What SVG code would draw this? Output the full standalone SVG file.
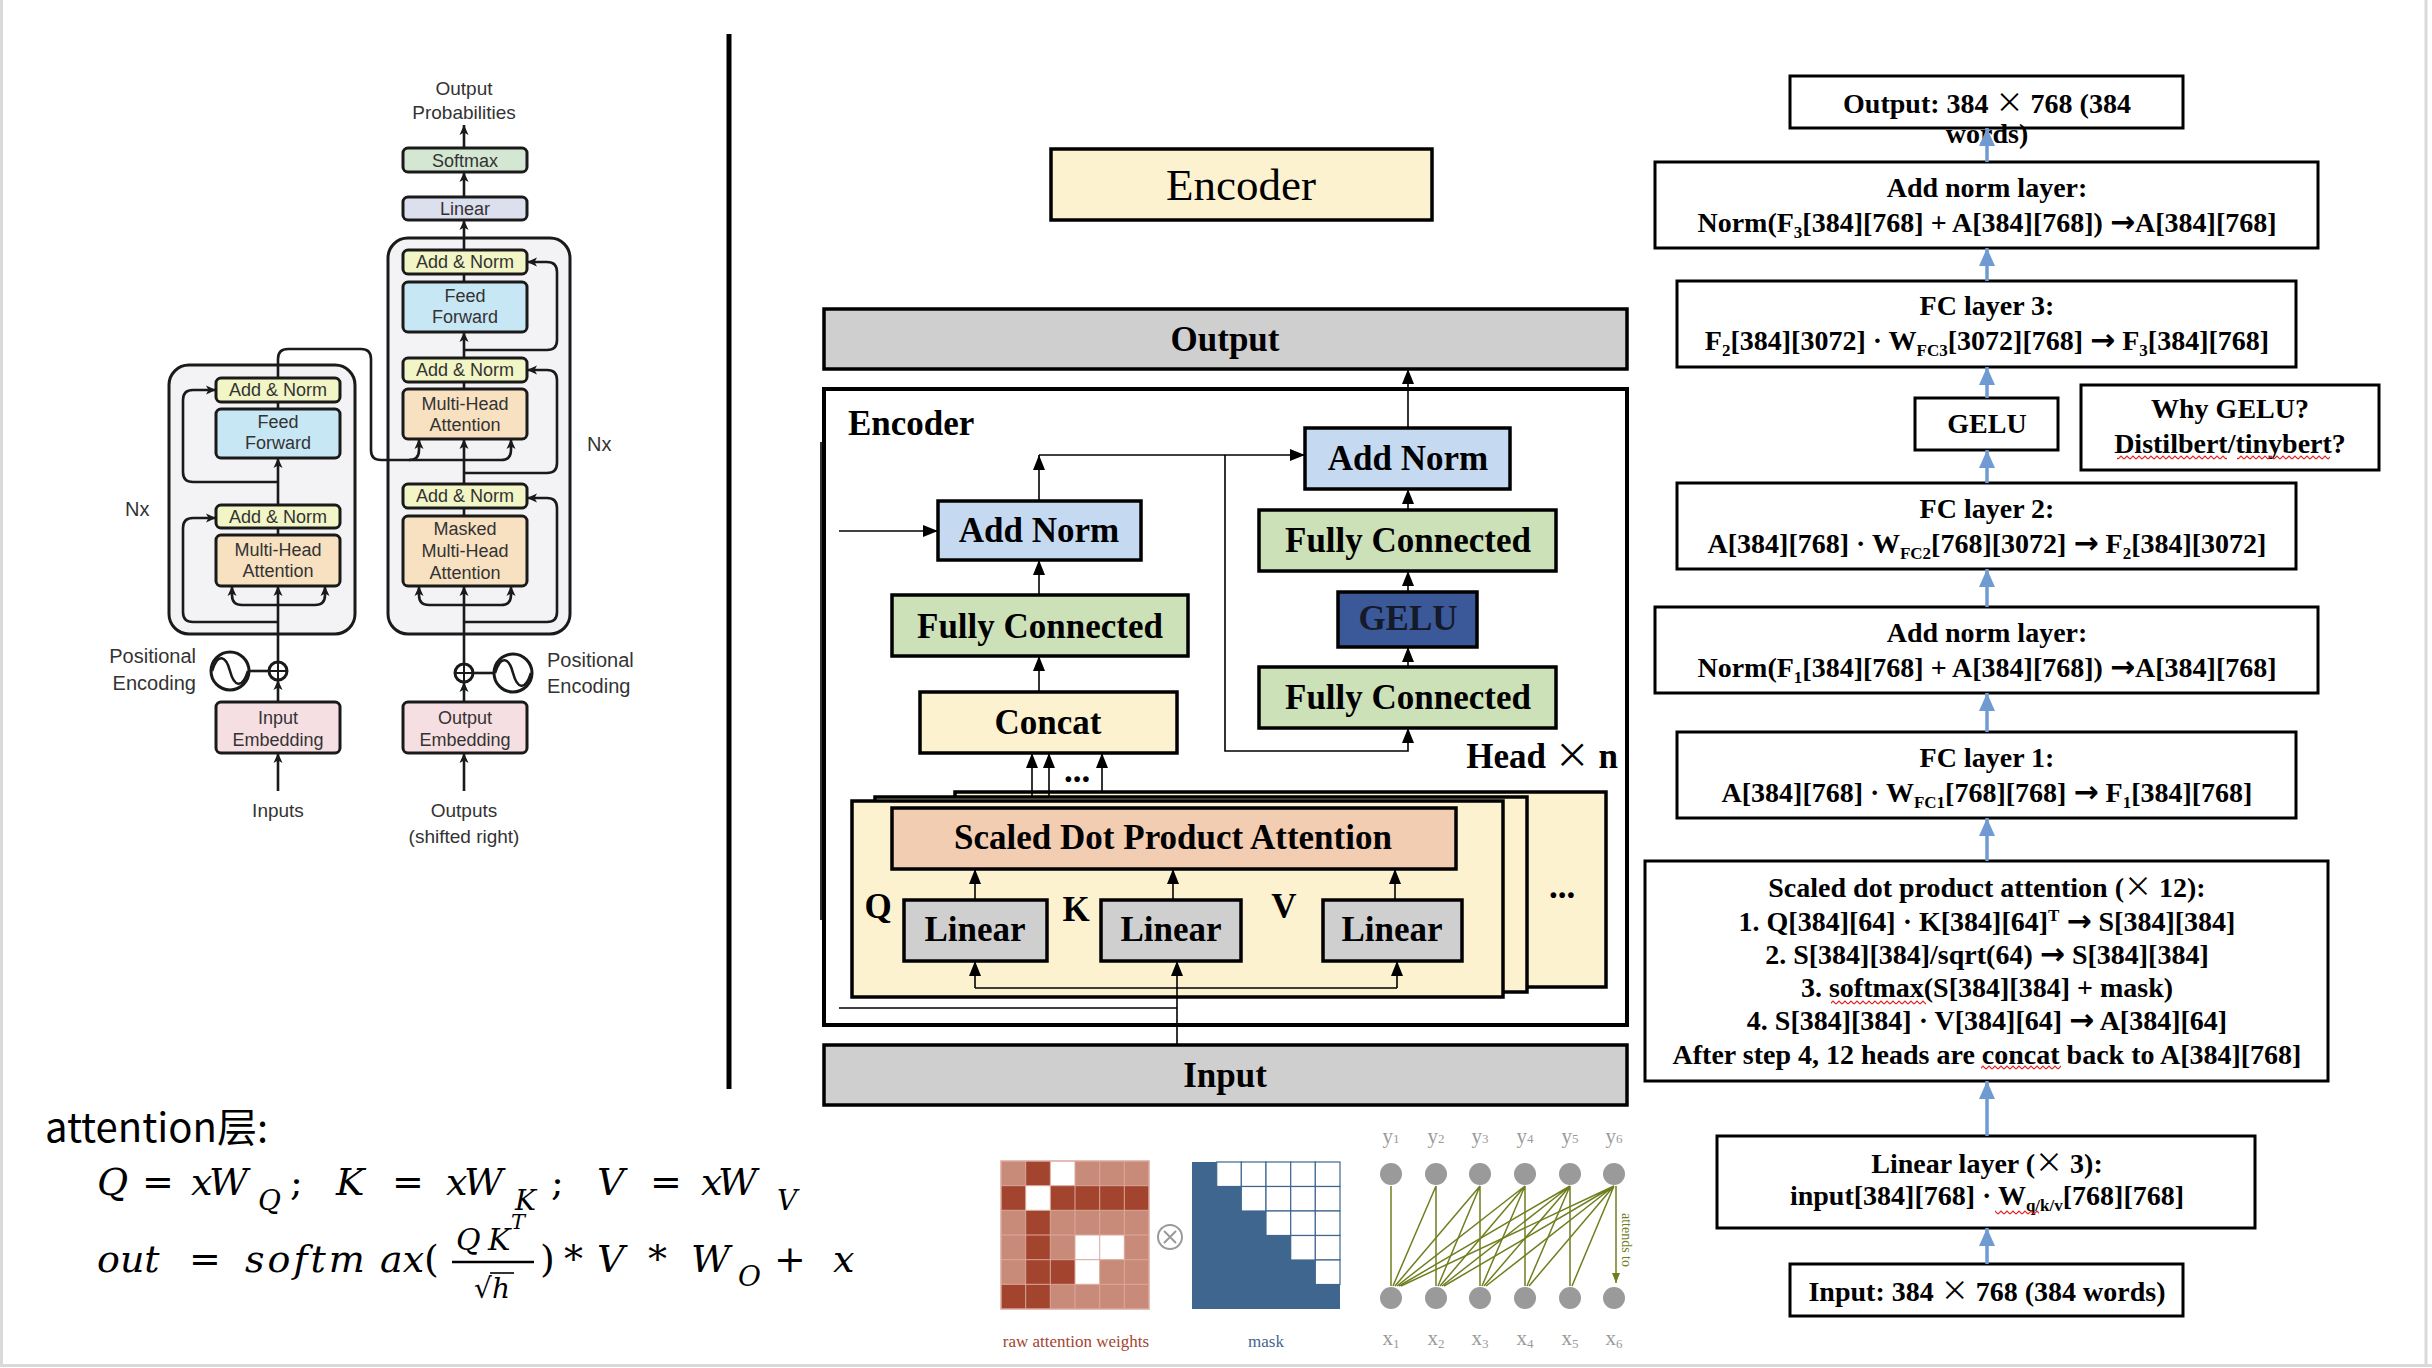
<svg xmlns="http://www.w3.org/2000/svg" width="2432" height="1368" viewBox="0 0 2432 1368">
<defs>
<style>
.pf{font-family:"Liberation Sans",Arial,sans-serif;font-size:18px;fill:#333;text-anchor:middle}
.pfl{font-family:"Liberation Sans",Arial,sans-serif;font-size:20px;fill:#333}
.pb{stroke:#1a1a1a;stroke-width:3}
.pl{fill:none;stroke:#1a1a1a;stroke-width:2.6}
.an{fill:#f2f5c6}.ff{fill:#c8e7f5}.mh{fill:#f7e1c1}.em{fill:#f6dfe2}
.tb{font-family:"Liberation Serif","Times New Roman",serif;font-weight:bold;font-size:35px;fill:#000;text-anchor:middle}
.mb{stroke:#000;stroke-width:3.5}
.ml{fill:none;stroke:#000;stroke-width:1.6}
.rb{fill:#fff;stroke:#000;stroke-width:3}
.rt{font-family:"Liberation Serif","Times New Roman",serif;font-weight:bold;font-size:28px;fill:#000;text-anchor:middle}
.sb{font-size:17px}
.ar{font-family:"DejaVu Sans",sans-serif;font-weight:bold;font-size:30px}
.cj{font-family:"Noto Sans CJK SC",sans-serif;font-weight:normal}
.bl{fill:none;stroke:#6f9bd2;stroke-width:3.5}
.fm{font-family:"DejaVu Serif",serif;font-style:italic;font-size:38px;fill:#000}
.up{font-style:normal}
.gl{stroke:#6f7f1f;stroke-width:1.5;fill:none}
.gn{fill:#9a9a9a}
.gt{font-family:"Liberation Serif",serif;font-size:21px;fill:#9a9a9a;text-anchor:middle}
</style>
<marker id="pa" markerUnits="userSpaceOnUse" markerWidth="10" markerHeight="10" refX="10" refY="5" orient="auto"><path d="M0,0.5 L10,5 L0,9.5 L2.5,5 z" fill="#1a1a1a"/></marker>
<marker id="ma" markerUnits="userSpaceOnUse" markerWidth="15" markerHeight="12" refX="15" refY="6" orient="auto"><path d="M0,0 L15,6 L0,12 z" fill="#000"/></marker>
<marker id="ba" markerUnits="userSpaceOnUse" markerWidth="18" markerHeight="16" refX="18" refY="8" orient="auto"><path d="M0,0 L18,8 L0,16 z" fill="#6f9bd2"/></marker>
<marker id="ga" markerUnits="userSpaceOnUse" markerWidth="10" markerHeight="8" refX="10" refY="4" orient="auto"><path d="M0,0 L10,4 L0,8 z" fill="#6f7f1f"/></marker>
<pattern id="wave" width="6" height="5" patternUnits="userSpaceOnUse"><path d="M0,4 L3,1 L6,4" stroke="#e02020" fill="none" stroke-width="1.2"/></pattern>
</defs>
<rect width="2432" height="1368" fill="#fff"/>
<g id="slide-border" stroke="#d9d9d9" stroke-width="3" fill="none">
<line x1="1.5" y1="0" x2="1.5" y2="1366"/>
<line x1="0" y1="1365.5" x2="2432" y2="1365.5"/>
<line x1="2426" y1="0" x2="2426" y2="1366"/>
</g>
<line id="divider" x1="729" y1="34" x2="729" y2="1089" stroke="#000" stroke-width="5"/>

<!-- ===== Left: transformer paper figure ===== -->
<g id="paper-figure">
<g id="dec-container"><rect x="388" y="238" width="182" height="396" rx="20" fill="#f3f3f5" class="pb"/></g>
<g id="enc-container"><rect x="169" y="365" width="186" height="269" rx="20" fill="#f3f3f5" class="pb"/></g>
<g id="p-output-prob"><text class="pf" x="464" y="95" style="font-size:19px">Output</text><text class="pf" x="464" y="119" style="font-size:19px">Probabilities</text></g>
<g id="p-softmax"><rect x="403" y="148" width="124" height="24" rx="5" fill="#d3e7d3" class="pb"/><text class="pf" x="465" y="167">Softmax</text></g>
<g id="p-linear"><rect x="403" y="197" width="124" height="23" rx="5" fill="#dcdfee" class="pb"/><text class="pf" x="465" y="215">Linear</text></g>
<g id="p-dec-an1"><rect x="403" y="250" width="124" height="24" rx="5" class="an pb"/><text class="pf" x="465" y="268">Add &amp; Norm</text></g>
<g id="p-dec-ff"><rect x="403" y="282" width="124" height="50" rx="5" class="ff pb"/><text class="pf" x="465" y="302">Feed</text><text class="pf" x="465" y="323">Forward</text></g>
<g id="p-dec-an2"><rect x="403" y="358" width="124" height="24" rx="5" class="an pb"/><text class="pf" x="465" y="376">Add &amp; Norm</text></g>
<g id="p-dec-mha"><rect x="403" y="389" width="124" height="50" rx="5" class="mh pb"/><text class="pf" x="465" y="410">Multi-Head</text><text class="pf" x="465" y="431">Attention</text></g>
<g id="p-dec-an3"><rect x="403" y="484" width="124" height="24" rx="5" class="an pb"/><text class="pf" x="465" y="502">Add &amp; Norm</text></g>
<g id="p-dec-mmha"><rect x="403" y="516" width="124" height="70" rx="5" class="mh pb"/><text class="pf" x="465" y="535">Masked</text><text class="pf" x="465" y="557">Multi-Head</text><text class="pf" x="465" y="579">Attention</text></g>
<g id="p-out-emb"><rect x="403" y="702" width="124" height="51" rx="5" class="em pb"/><text class="pf" x="465" y="724">Output</text><text class="pf" x="465" y="746">Embedding</text></g>
<g id="p-enc-an1"><rect x="216" y="378" width="124" height="24" rx="5" class="an pb"/><text class="pf" x="278" y="396">Add &amp; Norm</text></g>
<g id="p-enc-ff"><rect x="216" y="409" width="124" height="49" rx="5" class="ff pb"/><text class="pf" x="278" y="428">Feed</text><text class="pf" x="278" y="449">Forward</text></g>
<g id="p-enc-an2"><rect x="216" y="505" width="124" height="23" rx="5" class="an pb"/><text class="pf" x="278" y="523">Add &amp; Norm</text></g>
<g id="p-enc-mha"><rect x="216" y="535" width="124" height="51" rx="5" class="mh pb"/><text class="pf" x="278" y="556">Multi-Head</text><text class="pf" x="278" y="577">Attention</text></g>
<g id="p-in-emb"><rect x="216" y="702" width="124" height="51" rx="5" class="em pb"/><text class="pf" x="278" y="724">Input</text><text class="pf" x="278" y="746">Embedding</text></g>
<g id="p-labels">
<text class="pfl" x="125" y="516">Nx</text>
<text class="pfl" x="587" y="451">Nx</text>
<text class="pfl" x="196" y="663" style="text-anchor:end">Positional</text>
<text class="pfl" x="196" y="690" style="text-anchor:end">Encoding</text>
<text class="pfl" x="547" y="667">Positional</text>
<text class="pfl" x="547" y="693">Encoding</text>
<text class="pf" x="278" y="817" style="font-size:19px">Inputs</text>
<text class="pf" x="464" y="817" style="font-size:19px">Outputs</text>
<text class="pf" x="464" y="843" style="font-size:19px">(shifted right)</text>
</g>
<g id="p-pos-enc">
<circle cx="230" cy="671" r="19" fill="#fff" class="pb"/>
<path d="M212,671 C218,652 226,656 230,671 C234,686 242,690 248,671" class="pl"/>
<circle cx="278" cy="671" r="9" fill="#fff" class="pb"/>
<path d="M269,671 H287 M278,662 V680" class="pl" style="stroke-width:2"/>
<circle cx="513" cy="673" r="19" fill="#fff" class="pb"/>
<path d="M495,673 C501,654 509,658 513,673 C517,688 525,692 531,673" class="pl"/>
<circle cx="464" cy="673" r="9" fill="#fff" class="pb"/>
<path d="M455,673 H473 M464,664 V682" class="pl" style="stroke-width:2"/>
</g>
<g id="p-connectors" class="pl">
<path d="M464,148 V125" marker-end="url(#pa)"/>
<path d="M464,197 V172" marker-end="url(#pa)"/>
<path d="M464,250 V220" marker-end="url(#pa)"/>
<path d="M464,274 V282"/>
<path d="M464,358 V332" marker-end="url(#pa)"/>
<path d="M464,350 H547 Q557,350 557,340 V272 Q557,262 547,262 H527" marker-end="url(#pa)"/>
<path d="M464,382 V389"/>
<path d="M464,484 V439" marker-end="url(#pa)"/>
<path d="M464,460 H501 Q511,460 511,450 V439" marker-end="url(#pa)"/>
<path d="M464,473 H547 Q557,473 557,463 V380 Q557,370 547,370 H527" marker-end="url(#pa)"/>
<path d="M278,378 V359 Q278,349 288,349 H361 Q371,349 371,359 V450 Q371,460 381,460 H409 Q419,460 419,450 V439" marker-end="url(#pa)"/>
<path d="M409,460 H464"/>
<path d="M464,508 V516"/>
<path d="M464,664 V586" marker-end="url(#pa)"/>
<path d="M464,605 H429 Q419,605 419,595 V586" marker-end="url(#pa)"/>
<path d="M464,605 H501 Q511,605 511,595 V586" marker-end="url(#pa)"/>
<path d="M464,622 H547 Q557,622 557,612 V508 Q557,498 547,498 H527" marker-end="url(#pa)"/>
<path d="M464,702 V682" marker-end="url(#pa)"/>
<path d="M464,791 V753" marker-end="url(#pa)"/>
<path d="M473,673 H494"/>
<path d="M278,402 V409"/>
<path d="M278,505 V458" marker-end="url(#pa)"/>
<path d="M278,482 H193 Q183,482 183,472 V400 Q183,390 193,390 H216" marker-end="url(#pa)"/>
<path d="M278,528 V535"/>
<path d="M278,662 V586" marker-end="url(#pa)"/>
<path d="M278,605 H242 Q232,605 232,595 V586" marker-end="url(#pa)"/>
<path d="M278,605 H315 Q325,605 325,595 V586" marker-end="url(#pa)"/>
<path d="M278,622 H193 Q183,622 183,612 V528 Q183,518 193,518 H216" marker-end="url(#pa)"/>
<path d="M278,702 V680" marker-end="url(#pa)"/>
<path d="M278,791 V753" marker-end="url(#pa)"/>
<path d="M249,671 H269"/>
</g>
</g>

<!-- ===== Middle: encoder block ===== -->
<g id="encoder-title"><rect x="1051" y="149" width="381" height="71" fill="#fdf2d0" class="mb"/><text x="1241" y="200" class="tb" style="font-weight:normal;font-size:45px">Encoder</text></g>
<g id="output-bar"><rect x="824" y="309" width="803" height="60" fill="#d0cfd0" class="mb"/><text x="1225" y="351" class="tb">Output</text></g>
<g id="encoder-box"><rect x="824" y="389" width="803" height="636" fill="#fff" stroke="#000" stroke-width="4"/><text x="848" y="435" class="tb" style="text-anchor:start">Encoder</text></g>
<g id="head-stack">
<rect x="955" y="792" width="651" height="195" fill="#fdf2d0" class="mb"/>
<text x="1562" y="898" class="tb">...</text>
<rect x="875" y="797" width="652" height="195" fill="#fdf2d0" class="mb"/>
<rect x="852" y="801" width="651" height="196" fill="#fdf2d0" class="mb"/>
</g>
<g id="sdpa"><rect x="892" y="808" width="564" height="61" fill="#f3cdb1" class="mb"/><text x="1173" y="849" class="tb">Scaled Dot Product Attention</text></g>
<g id="linear-q"><rect x="904" y="900" width="143" height="61" fill="#d0cfd0" class="mb"/><text x="975" y="941" class="tb">Linear</text></g>
<g id="linear-k"><rect x="1101" y="900" width="140" height="61" fill="#d0cfd0" class="mb"/><text x="1171" y="941" class="tb">Linear</text></g>
<g id="linear-v"><rect x="1323" y="900" width="139" height="61" fill="#d0cfd0" class="mb"/><text x="1392" y="941" class="tb">Linear</text></g>
<g id="qkv-labels"><text x="878" y="918" class="tb">Q</text><text x="1076" y="921" class="tb">K</text><text x="1284" y="918" class="tb">V</text></g>
<g id="concat"><rect x="920" y="692" width="257" height="61" fill="#fdf2d0" class="mb"/><text x="1048" y="734" class="tb">Concat</text></g>
<g id="fc-left"><rect x="892" y="595" width="296" height="61" fill="#cde1b8" class="mb"/><text x="1040" y="638" class="tb">Fully Connected</text></g>
<g id="addnorm-left"><rect x="938" y="501" width="203" height="59" fill="#c5d9f1" class="mb"/><text x="1039" y="542" class="tb">Add Norm</text></g>
<g id="addnorm-right"><rect x="1305" y="428" width="205" height="61" fill="#c5d9f1" class="mb"/><text x="1408" y="470" class="tb">Add Norm</text></g>
<g id="fc-upper"><rect x="1259" y="510" width="297" height="61" fill="#cde1b8" class="mb"/><text x="1408" y="552" class="tb">Fully Connected</text></g>
<g id="gelu-mid"><rect x="1338" y="592" width="139" height="55" fill="#3b5998" class="mb"/><text x="1408" y="630" class="tb" style="fill:#141a2a">GELU</text></g>
<g id="fc-lower"><rect x="1259" y="667" width="297" height="61" fill="#cde1b8" class="mb"/><text x="1408" y="709" class="tb">Fully Connected</text></g>
<g id="head-n"><text x="1618" y="768" class="tb" style="text-anchor:end">Head <tspan class="cj">×</tspan> n</text></g>
<g id="concat-dots"><text x="1077" y="782" class="tb">...</text></g>
<g id="input-bar"><rect x="824" y="1045" width="803" height="60" fill="#d0cfd0" class="mb"/><text x="1225" y="1087" class="tb">Input</text></g>
<g id="mid-connectors" class="ml">
<path d="M1408,428 V369" marker-end="url(#ma)"/>
<path d="M1408,510 V489" marker-end="url(#ma)"/>
<path d="M1408,592 V571" marker-end="url(#ma)"/>
<path d="M1408,667 V647" marker-end="url(#ma)"/>
<path d="M1225,455 V751 H1408 V728" marker-end="url(#ma)"/>
<path d="M1039,501 V455" marker-end="url(#ma)"/>
<path d="M1039,455 H1305" marker-end="url(#ma)"/>
<path d="M839,531 H938" marker-end="url(#ma)"/>
<path d="M1039,595 V560" marker-end="url(#ma)"/>
<path d="M1039,692 V656" marker-end="url(#ma)"/>
<path d="M1032,797 V753" marker-end="url(#ma)"/>
<path d="M1049,797 V753" marker-end="url(#ma)"/>
<path d="M1102,792 V753" marker-end="url(#ma)"/>
<path d="M975,900 V869" marker-end="url(#ma)"/>
<path d="M1173,900 V869" marker-end="url(#ma)"/>
<path d="M1395,900 V869" marker-end="url(#ma)"/>
<path d="M975,988 V961" marker-end="url(#ma)"/>
<path d="M975,988 H1397"/>
<path d="M1397,988 V961" marker-end="url(#ma)"/>
<path d="M1177,1045 V961" marker-end="url(#ma)"/>
<path d="M839,1008 H1177"/>
<path d="M821,442 V920"/>
</g>

<!-- ===== Right: shapes column ===== -->
<g id="r-output"><rect x="1790" y="76" width="393" height="52" class="rb"/><text x="1987" y="113" class="rt">Output: 384 <tspan class="cj">×</tspan> 768 (384</text><text x="1987" y="143" class="rt">words)</text></g>
<g id="r-addnorm3"><rect x="1655" y="162" width="663" height="86" class="rb"/><text x="1987" y="197" class="rt">Add norm layer:</text><text x="1987" y="232" class="rt">Norm(F<tspan class="sb" dy="6">3</tspan><tspan dy="-6">[384][768] + A[384][768]) </tspan><tspan class="ar">→</tspan>A[384][768]</text></g>
<g id="r-fc3"><rect x="1677" y="281" width="619" height="86" class="rb"/><text x="1987" y="315" class="rt">FC layer 3:</text><text x="1987" y="350" class="rt">F<tspan class="sb" dy="6">2</tspan><tspan dy="-6">[384][3072] · W</tspan><tspan class="sb" dy="6">FC3</tspan><tspan dy="-6">[3072][768] </tspan><tspan class="ar">→</tspan> F<tspan class="sb" dy="6">3</tspan><tspan dy="-6">[384][768]</tspan></text></g>
<g id="r-gelu"><rect x="1915" y="398" width="143" height="52" class="rb"/><text x="1987" y="433" class="rt">GELU</text></g>
<g id="r-why"><rect x="2081" y="385" width="298" height="85" class="rb"/><text x="2230" y="418" class="rt">Why GELU?</text><text x="2230" y="453" class="rt">Distilbert/tinybert?</text>
<rect x="2117" y="455" width="110" height="5" fill="url(#wave)"/><rect x="2237" y="455" width="93" height="5" fill="url(#wave)"/></g>
<g id="r-fc2"><rect x="1677" y="483" width="619" height="86" class="rb"/><text x="1987" y="518" class="rt">FC layer 2:</text><text x="1987" y="553" class="rt">A[384][768] · W<tspan class="sb" dy="6">FC2</tspan><tspan dy="-6">[768][3072] </tspan><tspan class="ar">→</tspan> F<tspan class="sb" dy="6">2</tspan><tspan dy="-6">[384][3072]</tspan></text></g>
<g id="r-addnorm1"><rect x="1655" y="607" width="663" height="86" class="rb"/><text x="1987" y="642" class="rt">Add norm layer:</text><text x="1987" y="677" class="rt">Norm(F<tspan class="sb" dy="6">1</tspan><tspan dy="-6">[384][768] + A[384][768]) </tspan><tspan class="ar">→</tspan>A[384][768]</text></g>
<g id="r-fc1"><rect x="1677" y="732" width="619" height="86" class="rb"/><text x="1987" y="767" class="rt">FC layer 1:</text><text x="1987" y="802" class="rt">A[384][768] · W<tspan class="sb" dy="6">FC1</tspan><tspan dy="-6">[768][768] </tspan><tspan class="ar">→</tspan> F<tspan class="sb" dy="6">1</tspan><tspan dy="-6">[384][768]</tspan></text></g>
<g id="r-sdpa"><rect x="1645" y="861" width="683" height="220" class="rb"/>
<text x="1987" y="897" class="rt">Scaled dot product attention (<tspan class="cj">×</tspan> 12):</text>
<text x="1987" y="931" class="rt">1. Q[384][64] · K[384][64]<tspan class="sb" dy="-10">T</tspan><tspan dy="10"> </tspan><tspan class="ar">→</tspan> S[384][384]</text>
<text x="1987" y="964" class="rt">2. S[384][384]/sqrt(64) <tspan class="ar">→</tspan> S[384][384]</text>
<text x="1987" y="997" class="rt">3. softmax(S[384][384] + mask)</text>
<text x="1987" y="1030" class="rt">4. S[384][384] · V[384][64] <tspan class="ar">→</tspan> A[384][64]</text>
<text x="1987" y="1064" class="rt">After step 4, 12 heads are concat back to A[384][768]</text>
<rect x="1831" y="1000" width="95" height="5" fill="url(#wave)"/><rect x="1981" y="1065" width="80" height="5" fill="url(#wave)"/></g>
<g id="r-linear"><rect x="1717" y="1136" width="538" height="92" class="rb"/><text x="1987" y="1173" class="rt">Linear layer (<tspan class="cj">×</tspan> 3):</text><text x="1987" y="1205" class="rt">input[384][768] · W<tspan class="sb" dy="6">q/k/v</tspan><tspan dy="-6">[768][768]</tspan></text>
<rect x="1995" y="1210" width="44" height="5" fill="url(#wave)"/></g>
<g id="r-input"><rect x="1790" y="1264" width="393" height="52" class="rb"/><text x="1987" y="1301" class="rt">Input: 384 <tspan class="cj">×</tspan> 768 (384 words)</text></g>
<g id="right-connectors" class="bl">
<path d="M1987,162 V128" marker-end="url(#ba)"/>
<path d="M1987,281 V248" marker-end="url(#ba)"/>
<path d="M1987,398 V367" marker-end="url(#ba)"/>
<path d="M1987,483 V450" marker-end="url(#ba)"/>
<path d="M1987,607 V569" marker-end="url(#ba)"/>
<path d="M1987,732 V693" marker-end="url(#ba)"/>
<path d="M1987,861 V818" marker-end="url(#ba)"/>
<path d="M1987,1136 V1081" marker-end="url(#ba)"/>
<path d="M1987,1264 V1228" marker-end="url(#ba)"/>
</g>

<!-- ===== Bottom-left formula ===== -->
<g id="formula">
<text x="45" y="1142" font-family="Noto Sans CJK SC, sans-serif" font-size="40" fill="#000">attention层:</text>
<text class="fm" y="1195"><tspan x="97">Q</tspan><tspan x="142" class="up">=</tspan><tspan x="191">x</tspan><tspan x="209">W</tspan><tspan x="258" y="1210" style="font-size:28px">Q</tspan><tspan x="290" y="1195" class="up">;</tspan><tspan x="336">K</tspan><tspan x="392" class="up">=</tspan><tspan x="446">x</tspan><tspan x="464">W</tspan><tspan x="515" y="1210" style="font-size:28px">K</tspan><tspan x="551" y="1195" class="up">;</tspan><tspan x="597">V</tspan><tspan x="650" class="up">=</tspan><tspan x="701">x</tspan><tspan x="718">W</tspan><tspan x="777" y="1210" style="font-size:28px">V</tspan></text>
<text class="fm" y="1272"><tspan x="97">out</tspan><tspan x="189" class="up">=</tspan><tspan x="245" letter-spacing="3">softm</tspan><tspan x="380">ax</tspan><tspan x="424" class="up">(</tspan><tspan x="456" y="1250" style="font-size:30px">Q</tspan><tspan x="488" style="font-size:30px">K</tspan><tspan x="511" y="1229" style="font-size:21px">T</tspan><tspan x="474" y="1298" class="up" style="font-size:28px">√</tspan><tspan x="492" style="font-size:28px">h</tspan><tspan x="540" y="1272" class="up">)</tspan><tspan x="564" class="up">*</tspan><tspan x="597">V</tspan><tspan x="648" class="up">*</tspan><tspan x="691">W</tspan><tspan x="738" y="1286" style="font-size:28px">O</tspan><tspan x="774" y="1272" class="up">+</tspan><tspan x="833">x</tspan></text>
<line x1="452" y1="1262" x2="534" y2="1262" stroke="#000" stroke-width="2.5"/>
<line x1="490" y1="1273" x2="514" y2="1273" stroke="#000" stroke-width="1.6"/>
</g>

<!-- ===== Bottom-middle: attention mask illustration ===== -->
<g id="raw-weights">
<rect x="1001" y="1161" width="148" height="148" fill="#c98b79"/>
<g fill="#a3442f">
<rect x="1025.7" y="1161" width="24.7" height="24.7"/>
<rect x="1001" y="1185.7" width="24.7" height="24.7"/>
<rect x="1050.3" y="1185.7" width="98.7" height="24.7"/>
<rect x="1025.7" y="1210.3" width="24.7" height="74"/>
<rect x="1050.3" y="1259.7" width="24.7" height="24.7"/>
<rect x="1001" y="1284.3" width="49.3" height="24.7"/>
</g>
<g fill="#fff">
<rect x="1050.3" y="1161" width="24.7" height="24.7"/>
<rect x="1025.7" y="1185.7" width="24.7" height="24.7"/>
<rect x="1075" y="1235" width="49.3" height="24.7"/>
<rect x="1075" y="1259.7" width="24.7" height="24.7"/>
</g>
<path d="M1025.7,1161 V1309 M1050.3,1161 V1309 M1075,1161 V1309 M1099.7,1161 V1309 M1124.3,1161 V1309 M1001,1185.7 H1149 M1001,1210.3 H1149 M1001,1235 H1149 M1001,1259.7 H1149 M1001,1284.3 H1149" stroke="#dba99c" stroke-width="1" fill="none"/>
<rect x="1001" y="1161" width="148" height="148" fill="none" stroke="#dba99c" stroke-width="1.5"/>
<text x="1076" y="1347" font-family="Liberation Serif, serif" font-size="17" fill="#a3442f" text-anchor="middle">raw attention weights</text>
</g>
<g id="otimes"><circle cx="1170" cy="1237" r="12" fill="#fff" stroke="#9a9a9a" stroke-width="2"/><path d="M1164,1231 L1176,1243 M1176,1231 L1164,1243" stroke="#9a9a9a" stroke-width="2"/></g>
<g id="mask">
<rect x="1192" y="1162" width="148" height="147" fill="#3f668f"/>
<g fill="#fff" stroke="#3f668f" stroke-width="1.2">
<rect x="1216.7" y="1162" width="24.7" height="24.5"/><rect x="1241.3" y="1162" width="24.7" height="24.5"/><rect x="1266" y="1162" width="24.7" height="24.5"/><rect x="1290.7" y="1162" width="24.7" height="24.5"/><rect x="1315.3" y="1162" width="24.7" height="24.5"/>
<rect x="1241.3" y="1186.5" width="24.7" height="24.5"/><rect x="1266" y="1186.5" width="24.7" height="24.5"/><rect x="1290.7" y="1186.5" width="24.7" height="24.5"/><rect x="1315.3" y="1186.5" width="24.7" height="24.5"/>
<rect x="1266" y="1211" width="24.7" height="24.5"/><rect x="1290.7" y="1211" width="24.7" height="24.5"/><rect x="1315.3" y="1211" width="24.7" height="24.5"/>
<rect x="1290.7" y="1235.5" width="24.7" height="24.5"/><rect x="1315.3" y="1235.5" width="24.7" height="24.5"/>
<rect x="1315.3" y="1260" width="24.7" height="24.5"/>
</g>
<text x="1266" y="1347" font-family="Liberation Serif, serif" font-size="17" fill="#3f668f" text-anchor="middle">mask</text>
</g>
<g id="attend-graph">
<g class="gl">
<path d="M1391,1186 L1391,1286"/>
<path d="M1436,1186 L1393,1286 M1436,1186 L1436,1286"/>
<path d="M1480,1186 L1395,1286 M1480,1186 L1438,1286 M1480,1186 L1480,1286"/>
<path d="M1525,1186 L1397,1286 M1525,1186 L1440,1286 M1525,1186 L1482,1286 M1525,1186 L1525,1286"/>
<path d="M1570,1186 L1399,1286 M1570,1186 L1442,1286 M1570,1186 L1484,1286 M1570,1186 L1527,1286 M1570,1186 L1570,1286"/>
<path d="M1614,1186 L1401,1286 M1614,1186 L1444,1286 M1614,1186 L1486,1286 M1614,1186 L1529,1286 M1614,1186 L1572,1286"/>
<path d="M1616,1186 L1616,1283" marker-end="url(#ga)"/>
</g>
<g class="gn">
<circle cx="1391" cy="1174" r="11"/><circle cx="1436" cy="1174" r="11"/><circle cx="1480" cy="1174" r="11"/><circle cx="1525" cy="1174" r="11"/><circle cx="1570" cy="1174" r="11"/><circle cx="1614" cy="1174" r="11"/>
<circle cx="1391" cy="1298" r="11"/><circle cx="1436" cy="1298" r="11"/><circle cx="1480" cy="1298" r="11"/><circle cx="1525" cy="1298" r="11"/><circle cx="1570" cy="1298" r="11"/><circle cx="1614" cy="1298" r="11"/>
</g>
<g class="gt">
<text x="1391" y="1143">y<tspan style="font-size:13px">1</tspan></text><text x="1436" y="1143">y<tspan style="font-size:13px">2</tspan></text><text x="1480" y="1143">y<tspan style="font-size:13px">3</tspan></text><text x="1525" y="1143">y<tspan style="font-size:13px">4</tspan></text><text x="1570" y="1143">y<tspan style="font-size:13px">5</tspan></text><text x="1614" y="1143">y<tspan style="font-size:13px">6</tspan></text>
<text x="1391" y="1345">x<tspan style="font-size:13px" dy="3">1</tspan></text><text x="1436" y="1345">x<tspan style="font-size:13px" dy="3">2</tspan></text><text x="1480" y="1345">x<tspan style="font-size:13px" dy="3">3</tspan></text><text x="1525" y="1345">x<tspan style="font-size:13px" dy="3">4</tspan></text><text x="1570" y="1345">x<tspan style="font-size:13px" dy="3">5</tspan></text><text x="1614" y="1345">x<tspan style="font-size:13px" dy="3">6</tspan></text>
</g>
<text x="1622" y="1240" transform="rotate(90 1622 1240)" font-family="Liberation Serif, serif" font-size="14" fill="#6f7f1f" text-anchor="middle">attends to</text>
</g>
</svg>
